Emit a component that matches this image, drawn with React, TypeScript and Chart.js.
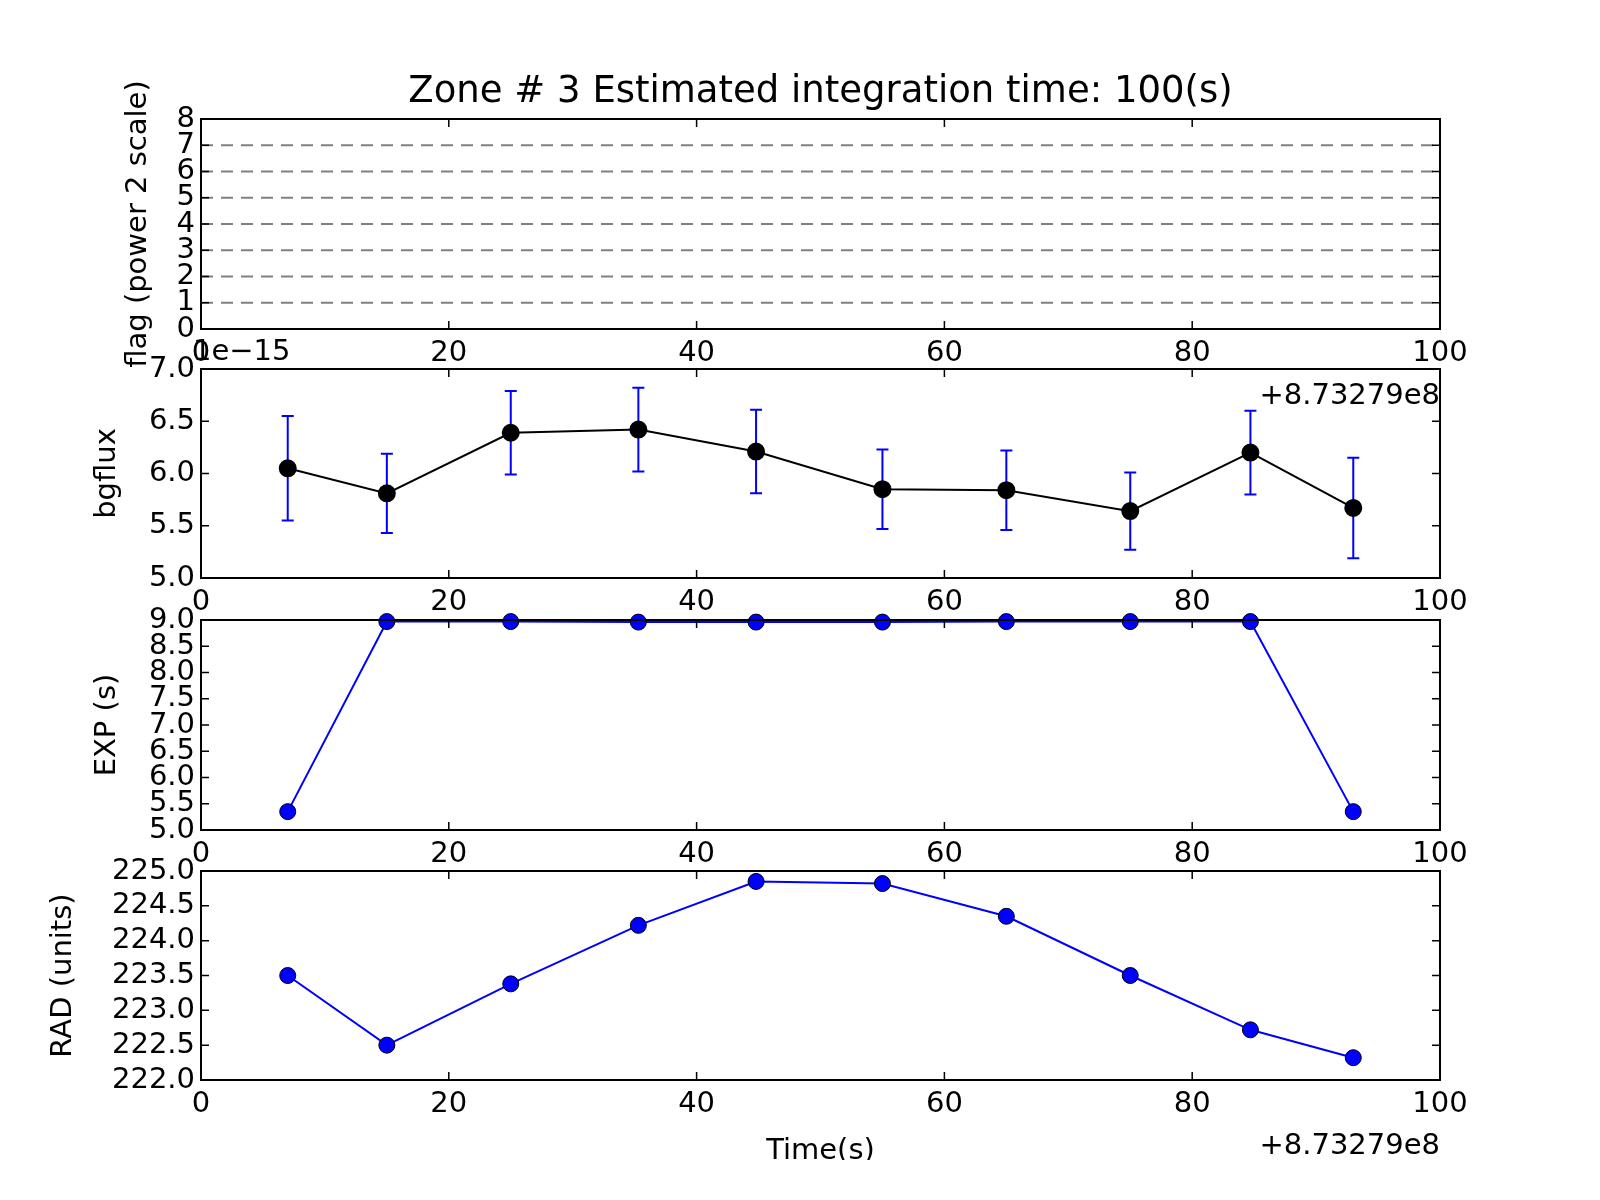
import React, { useRef, useEffect } from 'react';
import { Chart, registerables } from 'chart.js';

Chart.register(...registerables);

const times = [7, 15, 25, 35.3, 44.8, 55, 65, 75, 84.7, 93];
const bgflux = [6.05, 5.81, 6.39, 6.42, 6.21, 5.85, 5.84, 5.64, 6.2, 5.67];
const bgfluxErr = [0.5, 0.38, 0.4, 0.4, 0.4, 0.38, 0.38, 0.37, 0.4, 0.48];
const expTime = [5.35, 8.97, 8.97, 8.96, 8.96, 8.96, 8.97, 8.97, 8.97, 5.35];
const radius = [223.5, 222.5, 223.38, 224.22, 224.85, 224.82, 224.35, 223.5, 222.72, 222.32];
const flagLevels = [1, 2, 3, 4, 5, 6, 7];

const FONT = '"DejaVu Sans", sans-serif';
const PAD = 80;
const LEFT = 201;
const RIGHT = 1440;

interface PanelCfg {
  top: number;
  bottom: number;
  yMin: number;
  yMax: number;
  yStep: number;
  yDecimals: number;
  yLabel: string;
  yLabelX: number;
  // extra text, drawn in page coordinates (y offset applied by caller)
  extra?: (ctx: CanvasRenderingContext2D, chart: Chart, dy: number) => void;
}

const decor = (cfg: PanelCfg) => ({
  id: 'decor',
  afterDatasetsDraw(chart: Chart) {
    const ctx = chart.ctx;
    const a = chart.chartArea;
    const xs = chart.scales.x;
    const ys = chart.scales.y;
    ctx.save();
    ctx.strokeStyle = '#000';
    ctx.lineWidth = 1.5;
    xs.ticks.forEach((t) => {
      const px = xs.getPixelForValue(t.value);
      ctx.beginPath();
      ctx.moveTo(px, a.bottom); ctx.lineTo(px, a.bottom - 8);
      ctx.moveTo(px, a.top); ctx.lineTo(px, a.top + 8);
      ctx.stroke();
    });
    ys.ticks.forEach((t) => {
      const py = ys.getPixelForValue(t.value);
      ctx.beginPath();
      ctx.moveTo(a.left, py); ctx.lineTo(a.left + 8, py);
      ctx.moveTo(a.right, py); ctx.lineTo(a.right - 8, py);
      ctx.stroke();
    });
    ctx.lineWidth = 2;
    ctx.strokeRect(a.left, a.top, a.right - a.left, a.bottom - a.top);
    ctx.fillStyle = '#000';
    ctx.font = `29px ${FONT}`;
    ctx.textAlign = 'center';
    ctx.textBaseline = 'top';
    xs.ticks.forEach((t) => {
      ctx.fillText(String(t.value), xs.getPixelForValue(t.value), a.bottom + 10);
    });
    ctx.textAlign = 'right';
    ctx.textBaseline = 'middle';
    ys.ticks.forEach((t) => {
      ctx.fillText(t.value.toFixed(cfg.yDecimals), a.left - 6, ys.getPixelForValue(t.value));
    });
    ctx.save();
    ctx.translate(cfg.yLabelX, (a.top + a.bottom) / 2);
    ctx.rotate(-Math.PI / 2);
    ctx.textAlign = 'center';
    ctx.fillText(cfg.yLabel, 0, 0);
    ctx.restore();
    if (cfg.extra) cfg.extra(ctx, chart, -(cfg.top - PAD));
    ctx.restore();
  },
});

const errorBars = {
  id: 'errorBars',
  beforeDatasetsDraw(chart: Chart) {
    const ctx = chart.ctx;
    const xs = chart.scales.x;
    const ys = chart.scales.y;
    ctx.save();
    ctx.strokeStyle = '#0000ff';
    ctx.lineWidth = 2;
    times.forEach((t, i) => {
      const px = xs.getPixelForValue(t);
      const y1 = ys.getPixelForValue(bgflux[i] - bgfluxErr[i]);
      const y2 = ys.getPixelForValue(bgflux[i] + bgfluxErr[i]);
      ctx.beginPath();
      ctx.moveTo(px, y1); ctx.lineTo(px, y2);
      ctx.moveTo(px - 6, y1); ctx.lineTo(px + 6, y1);
      ctx.moveTo(px - 6, y2); ctx.lineTo(px + 6, y2);
      ctx.stroke();
    });
    ctx.restore();
  },
};

const Panel: React.FC<{ cfg: PanelCfg; datasets: any[]; plugins?: any[] }> = ({ cfg, datasets, plugins = [] }) => {
  const ref = useRef<HTMLCanvasElement | null>(null);
  useEffect(() => {
    if (!ref.current) return;
    const chart = new Chart(ref.current, {
      type: 'line',
      data: { datasets },
      options: {
        animation: false,
        responsive: false,
        devicePixelRatio: 1,
        layout: { padding: { left: LEFT, right: 1600 - RIGHT, top: PAD, bottom: PAD } },
        plugins: { legend: { display: false }, tooltip: { enabled: false } },
        scales: {
          x: { type: 'linear', min: 0, max: 100, ticks: { stepSize: 20 }, display: false },
          y: { type: 'linear', min: cfg.yMin, max: cfg.yMax, ticks: { stepSize: cfg.yStep }, display: false },
        },
      },
      plugins: [...plugins, decor(cfg)],
    });
    return () => chart.destroy();
  }, []);
  const h = cfg.bottom - cfg.top + 2 * PAD;
  return (
    <canvas
      ref={ref}
      width={1600}
      height={h}
      style={{ position: 'absolute', left: 0, top: cfg.top - PAD, width: 1600, height: h }}
    />
  );
};

const pts = (ys: number[]) => times.map((t, i) => ({ x: t, y: ys[i] }));

const App: React.FC = () => {
  useEffect(() => {
    document.body.style.margin = '0';
  }, []);

  const flagSets = flagLevels.map((v) => ({
    data: [{ x: 0, y: v }, { x: 100, y: v }],
    borderColor: '#808080',
    borderWidth: 2,
    borderDash: [12, 8],
    pointRadius: 0,
  }));

  const blueLine = (ys: number[]) => ({
    data: pts(ys),
    borderColor: '#0000ff',
    borderWidth: 2,
    pointRadius: 8,
    pointBackgroundColor: '#0000ff',
    pointBorderColor: '#000',
    pointBorderWidth: 1,
    clip: false,
  });

  return (
    <div style={{ position: 'relative', width: 1600, height: 1200, background: '#fff' }}>
      <Panel
        cfg={{
          top: 119, bottom: 329, yMin: 0, yMax: 8, yStep: 1, yDecimals: 0,
          yLabel: 'flag (power 2 scale)', yLabelX: 138,
          extra: (ctx, chart, dy) => {
            const a = chart.chartArea;
            ctx.font = `37px ${FONT}`;
            ctx.textAlign = 'center';
            ctx.textBaseline = 'middle';
            ctx.fillText('Zone # 3 Estimated integration time: 100(s)', (a.left + a.right) / 2, 92 + dy);
          },
        }}
        datasets={flagSets}
      />
      <Panel
        cfg={{
          top: 369, bottom: 578, yMin: 5, yMax: 7, yStep: 0.5, yDecimals: 1,
          yLabel: 'bgflux', yLabelX: 107,
          extra: (ctx, chart, dy) => {
            ctx.font = `29px ${FONT}`;
            ctx.textAlign = 'left';
            ctx.textBaseline = 'middle';
            ctx.fillText('1e\u221215', chart.chartArea.left - 8, 352 + dy);
            ctx.textAlign = 'right';
            ctx.fillText('+8.73279e8', chart.chartArea.right, 396 + dy);
          },
        }}
        datasets={[{
          data: pts(bgflux),
          borderColor: '#000',
          borderWidth: 2,
          pointRadius: 8,
          pointBackgroundColor: '#000',
          pointBorderColor: '#000',
        }]}
        plugins={[errorBars]}
      />
      <Panel
        cfg={{
          top: 620, bottom: 830, yMin: 5, yMax: 9, yStep: 0.5, yDecimals: 1,
          yLabel: 'EXP (s)', yLabelX: 107,
        }}
        datasets={[blueLine(expTime)]}
      />
      <Panel
        cfg={{
          top: 871, bottom: 1080, yMin: 222, yMax: 225, yStep: 0.5, yDecimals: 1,
          yLabel: 'RAD (units)', yLabelX: 63,
          extra: (ctx, chart, dy) => {
            const a = chart.chartArea;
            ctx.font = `29px ${FONT}`;
            ctx.textAlign = 'center';
            ctx.textBaseline = 'middle';
            ctx.fillText('Time(s)', (a.left + a.right) / 2, 1151 + dy);
            ctx.textAlign = 'right';
            ctx.fillText('+8.73279e8', a.right, 1146 + dy);
          },
        }}
        datasets={[blueLine(radius)]}
      />
    </div>
  );
};

export default App;
